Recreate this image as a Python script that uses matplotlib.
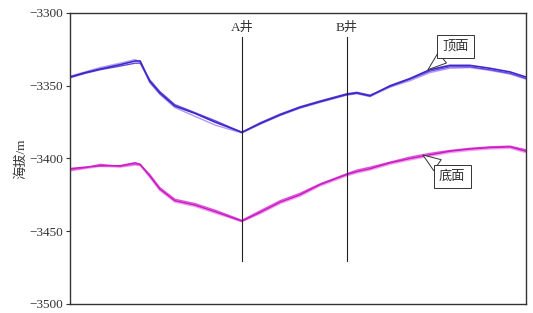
import matplotlib
matplotlib.use("Agg")
import matplotlib.pyplot as plt

plt.rcParams['font.family'] = ['Liberation Serif', 'Noto Sans CJK SC', 'DejaVu Sans']
plt.rcParams['axes.unicode_minus'] = True

# relative distance along the section (0-100)
x = [0, 3.3, 6.6, 11.0, 14.3, 15.4, 17.5, 19.7, 23.0, 27.4, 31.8, 37.7, 41.7, 46.1,
     50.4, 54.8, 60.7, 62.9, 65.8, 70.2, 74.6, 78.9, 83.3, 87.7, 92.1, 96.5, 100]

top_a = [-3344, -3341, -3338.5, -3335.5, -3333, -3333, -3347, -3355, -3364, -3369, -3375,
         -3382, -3376, -3370, -3365, -3361, -3356, -3355, -3357, -3350, -3345, -3339,
         -3336, -3336, -3338, -3340.5, -3344]
top_b = [-3344.5, -3341.5, -3339, -3336.5, -3334.5, -3334.5, -3346, -3354, -3363, -3368.5, -3374,
         -3382, -3375.5, -3369.5, -3364.5, -3360.5, -3355.5, -3354.5, -3356.5, -3350.5, -3345.5, -3340,
         -3337, -3337, -3339, -3341.5, -3345]
top_c = [-3343.5, -3340.5, -3337.5, -3334.5, -3332, -3334, -3348, -3356, -3365, -3371, -3377,
         -3382.5, -3376.5, -3370.5, -3365.5, -3361.5, -3356.5, -3355.5, -3357.5, -3351, -3346.5, -3341,
         -3338, -3337.5, -3339.5, -3342, -3345.5]

bot_a = [-3407, -3406, -3405, -3405, -3403, -3404, -3412, -3421, -3429, -3432, -3436.5,
         -3443, -3437, -3430, -3425, -3418, -3411, -3409, -3407, -3403, -3400, -3397.5,
         -3395, -3393.5, -3392.5, -3392, -3395]
bot_b = [-3408, -3406.5, -3404, -3405.5, -3404, -3404.5, -3411, -3420, -3428, -3431, -3435.5,
         -3442.5, -3436, -3429, -3424, -3417.5, -3410.5, -3408, -3406, -3402.5, -3399, -3396.5,
         -3394.5, -3393, -3392, -3391.5, -3394]
bot_c = [-3408.5, -3407, -3405.5, -3406, -3404.5, -3405, -3413, -3422, -3430, -3433, -3437.5,
         -3443.5, -3438, -3431, -3426, -3419, -3412, -3410, -3408, -3404, -3401, -3398.5,
         -3396, -3394.5, -3393.5, -3393, -3396]

wells = ['A井', 'B井']
well_x = [37.7, 60.7]
well_top = -3316.5
well_bottom = -3470.4

fig = plt.figure(figsize=(5.33, 3.13), dpi=100)
ax = fig.add_axes([0.1313, 0.0288, 0.8555, 0.9297])

top_colors = ['#b49af5', '#6b45e0', '#3a2ac8']
for ys, c, lw in zip([top_c, top_b, top_a], top_colors, [1.0, 1.0, 1.2]):
    ax.plot(x, ys, color=c, lw=lw)
bot_colors = ['#f0a0f0', '#e050e0', '#c81ec0']
for ys, c, lw in zip([bot_c, bot_b, bot_a], bot_colors, [1.0, 1.0, 1.2]):
    ax.plot(x, ys, color=c, lw=lw)

for name, wx in zip(wells, well_x):
    ax.plot([wx, wx], [well_top, well_bottom], color='#222222', lw=0.8)
    ax.text(wx, -3310.3, name, ha='center', va='center', fontsize=9.5, color='#333333')

box = dict(boxstyle='square,pad=0.4', fc='white', ec='#333333', lw=0.7)
arr_top = dict(arrowstyle='wedge,tail_width=1.0', fc='white', ec='#333333', lw=0.7,
               relpos=(0.25, 0.0), shrinkA=0, shrinkB=0)
arr_bot = dict(arrowstyle='wedge,tail_width=1.0', fc='white', ec='#333333', lw=0.7,
               relpos=(0.25, 1.0), shrinkA=0, shrinkB=0)
ax.annotate('顶面', xy=(78.5, -3339), xytext=(84.6, -3322.7), ha='center', va='center',
            fontsize=9.5, bbox=box, arrowprops=arr_top, color='#333333')
ax.annotate('底面', xy=(77.4, -3397.6), xytext=(83.8, -3412.7), ha='center', va='center',
            fontsize=9.5, bbox=box, arrowprops=arr_bot, color='#333333')

ax.set_xlim(0, 100)
ax.set_ylim(-3500, -3300)
ax.set_yticks([-3500, -3450, -3400, -3350, -3300])
ax.set_xticks([])
ax.tick_params(axis='y', labelsize=9.5, length=3, width=0.8, colors='#333333', pad=2)
for s in ax.spines.values():
    s.set_color('#333333')
    s.set_linewidth(1.0)
ax.set_ylabel('海拔/m', fontsize=9.5, color='#333333', labelpad=1)

fig.savefig('out.png', dpi=100)
